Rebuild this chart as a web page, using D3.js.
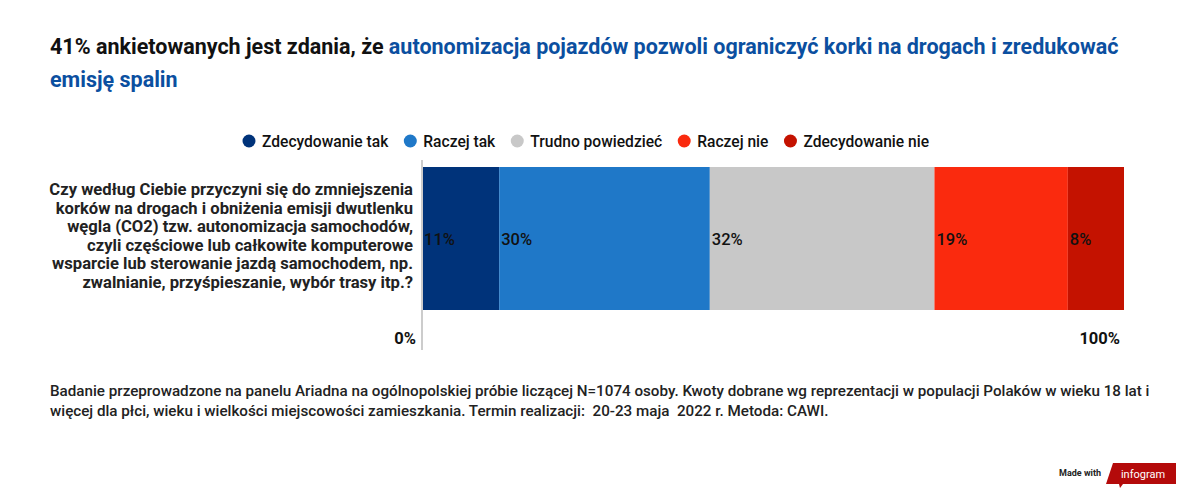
<!DOCTYPE html>
<html><head><meta charset="utf-8">
<script src="https://cdn.jsdelivr.net/npm/d3@7"></script>
<style>body{margin:0;background:#fff;font-family:Roboto,sans-serif}</style>
</head><body><svg id="chart" width="1200" height="497"></svg>
<script>
const categories = ["Zdecydowanie tak", "Raczej tak", "Trudno powiedzieć", "Raczej nie", "Zdecydowanie nie"];
const values = [11, 30, 32, 19, 8];
const colors = ["#00337a", "#1f78c8", "#c8c8c8", "#fa2a0e", "#c41200"];
const question = ["Czy według Ciebie przyczyni się do zmniejszenia", "korków na drogach i obniżenia emisji dwutlenku",
  "węgla (CO2) tzw. autonomizacja samochodów,", "czyli częściowe lub całkowite komputerowe",
  "wsparcie lub sterowanie jazdą samochodem, np.", "zwalnianie, przyśpieszanie, wybór trasy itp.?"];

const svg = d3.select("#chart");

// title
const title = svg.append("text").attr("font-size", 21.5).attr("font-weight", 700);
title.append("tspan").attr("x", 50).attr("y", 54).attr("fill", "#111").text("41% ankietowanych jest zdania, że ");
title.append("tspan").attr("fill", "#0b4fa0").text("autonomizacja pojazdów pozwoli ograniczyć korki na drogach i zredukować");
svg.append("text").attr("x", 50).attr("y", 87).attr("font-size", 21.5).attr("font-weight", 700)
  .attr("fill", "#0b4fa0").text("emisję spalin");

// legend
const legend = svg.append("g").attr("font-size", 15.6).attr("font-weight", 500);
let lx = 249;
categories.forEach((c, i) => {
  const g = legend.append("g").attr("transform", `translate(${lx},141)`);
  g.append("circle").attr("r", 6.5).attr("fill", colors[i]);
  const t = g.append("text").attr("x", 13).attr("y", 5.5).attr("fill", "#111").text(c);
  lx += 13 + t.node().getComputedTextLength() + 22;
});

// scale
const x = d3.scaleLinear().domain([0, 100]).range([422, 1124]);
const y0 = 167, bh = 143;

let acc = 0;
const stack = values.map(v => { const s = acc; acc += v; return {s, e: acc, v}; });

svg.append("g").selectAll("rect").data(stack).join("rect")
  .attr("x", d => x(d.s)).attr("width", d => x(d.e) - x(d.s))
  .attr("y", y0).attr("height", bh).attr("fill", (d, i) => colors[i]);

svg.append("g").selectAll("text").data(stack).join("text")
  .attr("x", d => x(d.s) + 2).attr("y", y0 + bh / 2 + 6)
  .attr("font-size", 16.5).attr("font-weight", 500).attr("fill", "#111")
  .text(d => d.v + "%");

svg.append("line").attr("x1", x(0)).attr("x2", x(0)).attr("y1", 160).attr("y2", 350)
  .attr("stroke", "#ccc").attr("stroke-width", 2);

svg.append("text").attr("x", x(0) - 6).attr("y", 344).attr("text-anchor", "end")
  .attr("font-size", 16.5).attr("font-weight", 700).attr("fill", "#111").text("0%");
svg.append("text").attr("x", x(100) - 4).attr("y", 344).attr("text-anchor", "end")
  .attr("font-size", 16.5).attr("font-weight", 700).attr("fill", "#111").text("100%");

svg.append("g").selectAll("text").data(question).join("text")
  .attr("x", 413).attr("y", (d, i) => 195 + i * 18.5).attr("text-anchor", "end")
  .attr("font-size", 16.6).attr("font-weight", 700).attr("fill", "#222").text(d => d);

// footer
const note = ["Badanie przeprowadzone na panelu Ariadna na ogólnopolskiej próbie liczącej N=1074 osoby. Kwoty dobrane wg reprezentacji w populacji Polaków w wieku 18 lat i",
  "więcej dla płci, wieku i wielkości miejscowości zamieszkania. Termin realizacji:  20-23 maja  2022 r. Metoda: CAWI."];
svg.append("g").selectAll("text").data(note).join("text")
  .attr("x", 50).attr("y", (d, i) => 396 + i * 20).attr("font-size", 15.2).attr("font-weight", 500)
  .attr("fill", "#222").attr("xml:space", "preserve").text(d => d);

svg.append("text").attr("x", 1101).attr("y", 476).attr("text-anchor", "end")
  .attr("font-size", 9).attr("font-weight", 700).attr("fill", "#222").text("Made with");
svg.append("path").attr("d", "M1113,463 L1176,463 L1176,484 L1123,484 L1120,488 L1119,484 L1106,484 Z").attr("fill", "#b40a0a");
svg.append("text").attr("x", 1143).attr("y", 478).attr("text-anchor", "middle")
  .attr("font-size", 11).attr("fill", "#fff").text("infogram");
</script></body></html>
